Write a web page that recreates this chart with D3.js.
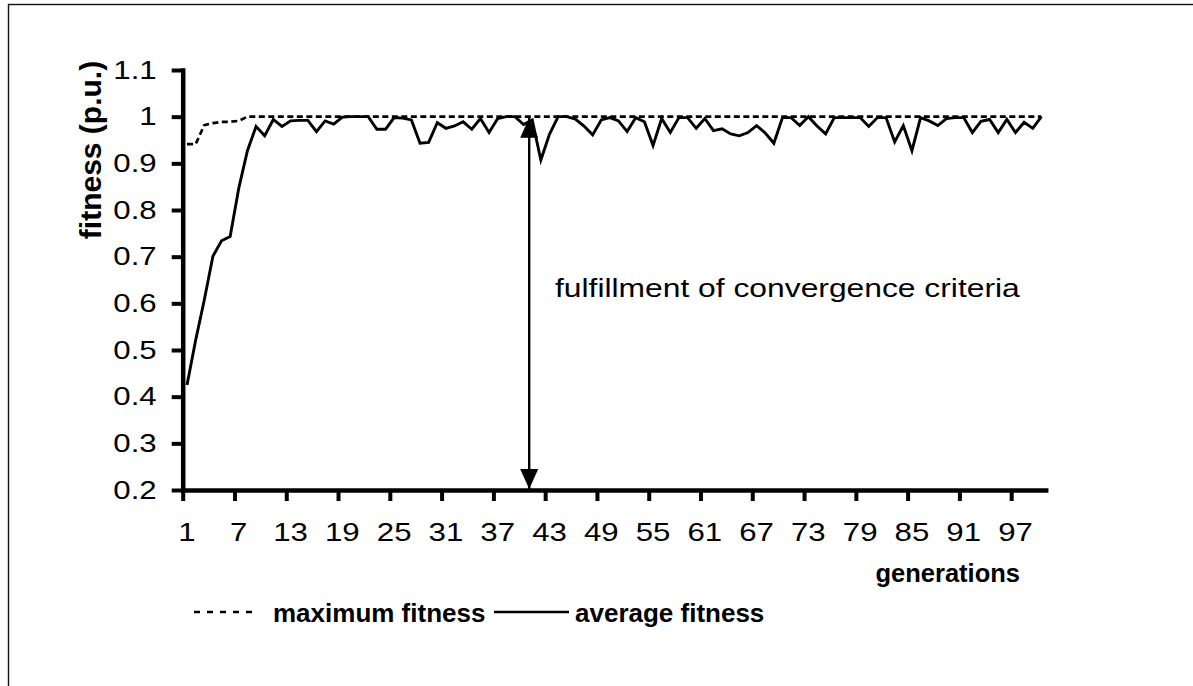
<!DOCTYPE html>
<html>
<head>
<meta charset="utf-8">
<script src="https://cdn.jsdelivr.net/npm/d3@7"></script>
<style>
  html, body { margin: 0; padding: 0; background: #fff; }
  svg { display: block; }
  text { font-family: "Liberation Sans", Arial, sans-serif; fill: #000; }
</style>
</head>
<body>
<script>
// ---------------- data ----------------
const generations = [
  1,2,3,4,5,6,7,8,9,10,11,12,13,14,15,16,17,18,19,20,
  21,22,23,24,25,26,27,28,29,30,31,32,33,34,35,36,37,38,39,40,
  41,42,43,44,45,46,47,48,49,50,51,52,53,54,55,56,57,58,59,60,
  61,62,63,64,65,66,67,68,69,70,71,72,73,74,75,76,77,78,79,80,
  81,82,83,84,85,86,87,88,89,90,91,92,93,94,95,96,97,98,99,100
];
const maxFitness = [
  0.941,0.941,0.982,0.986,0.989,0.989,0.991,1.0,1.0,1.0,1.0,1.0,1.0,1.0,1.0,1.0,1.0,1.0,1.0,1.0,
  1.0,1.0,1.0,1.0,1.0,1.0,1.0,1.0,1.0,1.0,1.0,1.0,1.0,1.0,1.0,1.0,1.0,1.0,1.0,1.0,
  1.0,1.0,1.0,1.0,1.0,1.0,1.0,1.0,1.0,1.0,1.0,1.0,1.0,1.0,1.0,1.0,1.0,1.0,1.0,1.0,
  1.0,1.0,1.0,1.0,1.0,1.0,1.0,1.0,1.0,1.0,1.0,1.0,1.0,1.0,1.0,1.0,1.0,1.0,1.0,1.0,
  1.0,1.0,1.0,1.0,1.0,1.0,1.0,1.0,1.0,1.0,1.0,1.0,1.0,1.0,1.0,1.0,1.0,1.0,1.0,1.0
];
const avgFitness = [
  0.425,0.521,0.607,0.701,0.734,0.743,0.847,0.927,0.979,0.959,
  0.994,0.979,0.991,0.992,0.992,0.968,0.991,0.984,0.999,1.0,
  1.0,1.0,0.973,0.973,0.998,0.997,0.993,0.943,0.945,0.987,
  0.975,0.98,0.989,0.973,0.996,0.966,0.996,1.0,1.0,0.983,
  0.993,0.907,0.962,1.0,1.0,0.995,0.98,0.961,0.993,0.998,
  0.991,0.968,0.998,0.989,0.938,0.996,0.966,0.998,0.998,0.975,
  0.996,0.970,0.974,0.963,0.959,0.966,0.981,0.965,0.943,0.998,
  0.998,0.981,1.0,0.98,0.963,0.998,0.998,0.998,0.998,0.979,
  0.998,0.998,0.946,0.981,0.927,0.998,0.991,0.981,0.996,0.998,
  0.998,0.966,0.99,0.994,0.966,0.994,0.966,0.988,0.975,1.0
];
const xTickLabels = [1,7,13,19,25,31,37,43,49,55,61,67,73,79,85,91,97];
const xTickBounds = [0,6,12,18,24,30,36,42,48,54,60,66,72,78,84,90,96];
const yTicks = [0.2,0.3,0.4,0.5,0.6,0.7,0.8,0.9,1.0,1.1];
const yTickLabels = ["0.2","0.3","0.4","0.5","0.6","0.7","0.8","0.9","1","1.1"];
const seriesNames = ["maximum fitness", "average fitness"];
const xTitle = "generations";
const yTitle = "fitness (p.u.)";
const annotationText = "fulfillment of convergence criteria";
const arrowAt = 40.15;           // position on the category axis (boundary units)
const arrowRange = [1.0, 0.2];   // fitness values spanned by the arrow

// ---------------- layout ----------------
const W = 1193, H = 686;
const plot = { left: 182.7, right: 1045.7, top: 70, bottom: 490 };
const SX = 1.2;   // horizontal stretch of regular text (as in reference)

const svg = d3.select("body").append("svg").attr("width", W).attr("height", H);
svg.append("rect").attr("width", W).attr("height", H).attr("fill", "#fff");

// outer frame (right/bottom fall outside the picture)
svg.append("rect").attr("x", 8.5).attr("y", 4.5).attr("width", 1300).attr("height", 800)
  .attr("fill", "none").attr("stroke", "#111").attr("stroke-width", 1.4);

const x = d3.scaleBand().domain(generations).range([plot.left, plot.right]).padding(0);
const xb = d3.scaleLinear().domain([0, generations.length]).range([plot.left, plot.right]);
const y = d3.scaleLinear().domain([0.2, 1.1]).range([plot.bottom, plot.top]);
const cx = g => x(g) + x.bandwidth() / 2;

// lines
const maxData = generations.map((g, i) => ({ g, v: maxFitness[i] }));
const avgData = generations.map((g, i) => ({ g, v: avgFitness[i] }));
const line = d3.line().x(d => cx(d.g)).y(d => y(d.v));

svg.append("path").datum(maxData).attr("d", line)
  .attr("fill", "none").attr("stroke", "#000").attr("stroke-width", 2.7)
  .attr("stroke-dasharray", "6,3.5");
svg.append("path").datum(avgData).attr("d", line)
  .attr("fill", "none").attr("stroke", "#000").attr("stroke-width", 2.9)
  .attr("stroke-linejoin", "miter");

// arrow
const defs = svg.append("defs");
defs.append("marker").attr("id", "ah").attr("viewBox", "0 0 20 18")
  .attr("refX", 20).attr("refY", 9).attr("markerWidth", 20).attr("markerHeight", 18)
  .attr("markerUnits", "userSpaceOnUse").attr("orient", "auto-start-reverse")
  .append("path").attr("d", "M0,0L20,9L0,18Z").attr("fill", "#000");
svg.append("line")
  .attr("x1", xb(arrowAt)).attr("x2", xb(arrowAt))
  .attr("y1", y(arrowRange[0]) + 1).attr("y2", y(arrowRange[1]) - 1)
  .attr("stroke", "#000").attr("stroke-width", 2.4)
  .attr("marker-start", "url(#ah)").attr("marker-end", "url(#ah)");

// y axis
const yAxis = svg.append("g").attr("transform", `translate(${plot.left},0)`)
  .call(d3.axisLeft(y).tickValues(yTicks).tickSize(11).tickSizeOuter(0)
    .tickFormat((d, i) => yTickLabels[i]));
yAxis.select(".domain").attr("stroke-width", 4.5).attr("stroke-linecap", "square");
yAxis.selectAll(".tick line").attr("stroke-width", 4);
yAxis.selectAll(".tick text")
  .attr("x", -26 / SX).attr("transform", `scale(${SX},1)`)
  .style("font-size", "26px");

// x axis: tick marks at category boundaries
const xAxisT = svg.append("g").attr("transform", `translate(0,${plot.bottom})`)
  .call(d3.axisBottom(xb).tickValues(xTickBounds).tickSize(11).tickSizeOuter(0).tickFormat(""));
xAxisT.select(".domain").attr("stroke-width", 4.5).attr("stroke-linecap", "square");
xAxisT.selectAll(".tick line").attr("stroke-width", 4);

// x axis: labels at category centres
const xAxisL = svg.append("g").attr("transform", `translate(0,${plot.bottom})`)
  .call(d3.axisBottom(x).tickValues(xTickLabels).tickSize(0).tickPadding(33));
xAxisL.select(".domain").remove();
xAxisL.selectAll(".tick text").attr("transform", `scale(${SX},1)`).style("font-size", "26px");

svg.selectAll(".tick text").attr("font-family", null);

// axis titles
svg.append("text").attr("x", 1020).attr("y", 582).attr("text-anchor", "end")
  .style("font-size", "25.5px").style("font-weight", "bold").text(xTitle);
svg.append("text").attr("transform", "translate(101,150) rotate(-90)")
  .attr("text-anchor", "middle").style("font-size", "30px").style("font-weight", "bold")
  .text(yTitle);

// annotation
svg.append("g").attr("transform", "translate(555,297)")
  .append("text").attr("transform", `scale(${SX},1)`).style("font-size", "26.5px")
  .text(annotationText);

// legend
const legY = 612;
svg.append("line").attr("x1", 194).attr("x2", 259).attr("y1", legY).attr("y2", legY)
  .attr("stroke", "#000").attr("stroke-width", 2.5).attr("stroke-dasharray", "6,7");
svg.append("text").attr("x", 273).attr("y", legY + 9.5)
  .style("font-size", "26px").style("font-weight", "bold").text(seriesNames[0]);
svg.append("line").attr("x1", 494).attr("x2", 569).attr("y1", legY).attr("y2", legY)
  .attr("stroke", "#000").attr("stroke-width", 2.5);
svg.append("text").attr("x", 575).attr("y", legY + 9.5)
  .style("font-size", "26px").style("font-weight", "bold").text(seriesNames[1]);
</script>
</body>
</html>
